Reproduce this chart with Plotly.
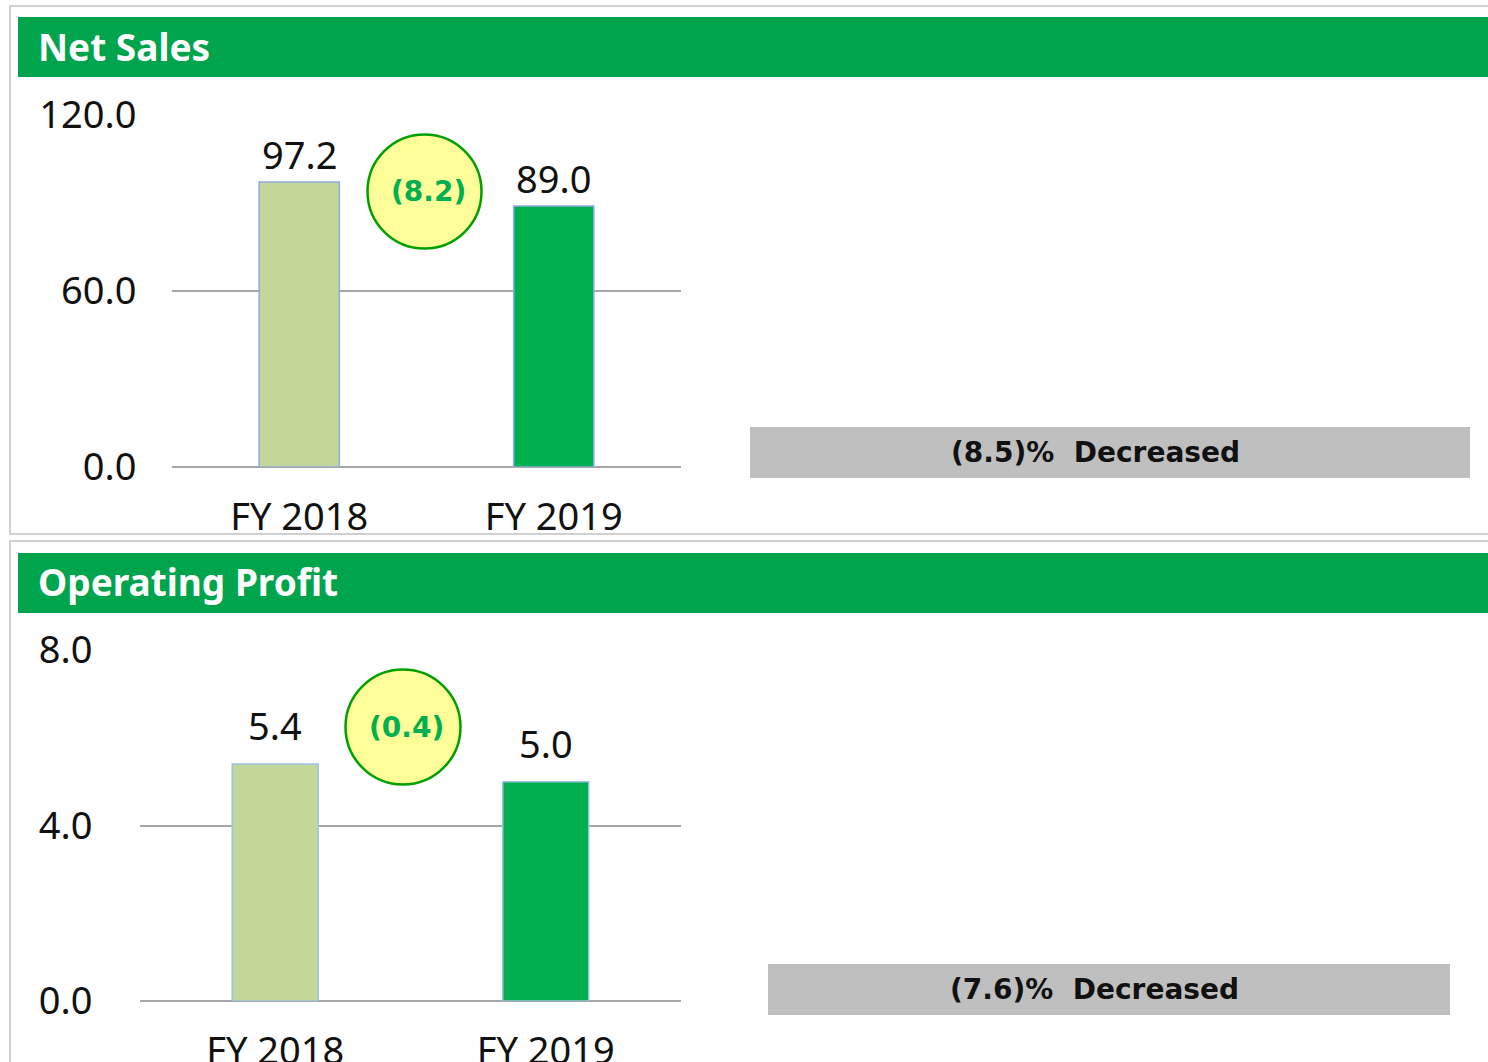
import plotly.graph_objects as go

# ---------------- data ----------------
categories = ["FY 2018", "FY 2019"]
net_sales = [97.2, 89.0]
op_profit = [5.4, 5.0]
net_sales_ticks = [0, 60, 120]
net_sales_ticktext = ["0.0", "60.0", "120.0"]
op_ticks = [0, 4, 8]
op_ticktext = ["0.0", "4.0", "8.0"]
panel_titles = ["Net Sales", "Operating Profit"]
changes = ["(8.2)", "(0.4)"]
pct_changes = ["(8.5)%\u00a0\u00a0Decreased", "(7.6)%\u00a0\u00a0Decreased"]

# ---------------- style ----------------
W, H = 1488, 1062
FONT = "Noto Sans"
BOLD_FONT = "DejaVu Sans"
bar_colors = ["#C4D79B", "#00B050"]
bar_line = "#8FAADC"
grid = "#A6A6A6"
header_green = "#00A44C"


def px(x):
    return x / W


def py(y):
    return 1 - y / H


fig = go.Figure()
fig.add_trace(go.Bar(x=categories, y=net_sales, width=0.315,
                     marker=dict(color=bar_colors, line=dict(color=bar_line, width=1.5)),
                     xaxis="x", yaxis="y", hoverinfo="skip"))
fig.add_trace(go.Bar(x=categories, y=op_profit, width=0.318,
                     marker=dict(color=bar_colors, line=dict(color="#9DC3E6", width=1.5)),
                     xaxis="x2", yaxis="y2", hoverinfo="skip"))

tickfont = dict(family=FONT, size=38, color="#111111")
axis_common = dict(showgrid=False, zeroline=False, showline=False, automargin=False,
                   tickfont=tickfont, ticks="outside", tickcolor="rgba(0,0,0,0)",
                   fixedrange=True)
yaxis_common = dict(showgrid=True, gridcolor=grid, gridwidth=1.5, zeroline=True,
                    zerolinecolor=grid, zerolinewidth=1.5, showline=False, automargin=False,
                    tickfont=tickfont, ticks="outside", tickcolor="rgba(0,0,0,0)",
                    fixedrange=True)

shapes = []
annotations = []

# panel borders
shapes.append(dict(type="rect", xref="paper", yref="paper", x0=px(10), x1=px(1495),
                   y0=py(534), y1=py(6), line=dict(color="#D0D0D0", width=2), layer="below"))
shapes.append(dict(type="rect", xref="paper", yref="paper", x0=px(10), x1=px(1495),
                   y0=py(1075), y1=py(541), line=dict(color="#D0D0D0", width=2), layer="below"))

# headers
for (y0, y1), title in zip([(17, 77), (553, 613)], panel_titles):
    shapes.append(dict(type="rect", xref="paper", yref="paper", x0=px(18), x1=px(1495),
                       y0=py(y1), y1=py(y0), fillcolor=header_green, line=dict(width=0)))
    annotations.append(dict(xref="paper", yref="paper", x=px(36), y=py((y0 + y1) / 2 - 1),
                            xanchor="left", yanchor="middle", showarrow=False, text=title,
                            font=dict(family=FONT, size=37, color="white", weight="bold")))

# circles
for (cx, cy, r), txt in zip([(424.5, 191.5, 57), (403, 727, 57.5)], changes):
    shapes.append(dict(type="circle", xref="paper", yref="paper",
                       x0=px(cx - r), x1=px(cx + r), y0=py(cy + r), y1=py(cy - r),
                       fillcolor="#FFFF99", line=dict(color="#00A000", width=2.5)))
    annotations.append(dict(xref="paper", yref="paper", x=px(cx + 4), y=py(cy),
                            xanchor="center", yanchor="middle", showarrow=False, text=txt,
                            font=dict(family=BOLD_FONT, size=28, color="#00B050", weight="bold")))

# grey boxes
for (x0, x1, y0, y1), txt in zip([(750, 1470, 427, 478), (768, 1450, 964, 1015)], pct_changes):
    shapes.append(dict(type="rect", xref="paper", yref="paper", x0=px(x0), x1=px(x1),
                       y0=py(y1), y1=py(y0), fillcolor="#BFBFBF", line=dict(width=0)))
    annotations.append(dict(xref="paper", yref="paper", x=px((x0 + x1) / 2 - 15), y=py((y0 + y1) / 2),
                            xanchor="center", yanchor="middle", showarrow=False, text=txt,
                            font=dict(family=BOLD_FONT, size=28, color="#111111", weight="bold")))

# bar value labels
for xa, ya, vals, shift in [("x", "y", net_sales, 0), ("x2", "y2", op_profit, 11)]:
    for c, v in zip(categories, vals):
        annotations.append(dict(xref=xa, yref=ya, x=c, y=v, yanchor="bottom", yshift=shift,
                                showarrow=False, text=f"{v:.1f}",
                                font=dict(family=FONT, size=38, color="#111111")))

fig.update_layout(
    width=W, height=H, margin=dict(l=0, r=0, t=0, b=0, autoexpand=False),
    paper_bgcolor="white", plot_bgcolor="rgba(0,0,0,0)", showlegend=False,
    bargap=0.2,
    xaxis=dict(axis_common, domain=[px(172), px(681)], anchor="y", ticklen=16),
    yaxis=dict(yaxis_common, domain=[py(467), py(115)], anchor="x", range=[0, 120],
               tickvals=net_sales_ticks, ticktext=net_sales_ticktext, ticklen=27),
    xaxis2=dict(axis_common, domain=[px(140), px(681)], anchor="y2", ticklen=16),
    yaxis2=dict(yaxis_common, domain=[py(1001), py(650)], anchor="x2", range=[0, 8],
                tickvals=op_ticks, ticktext=op_ticktext, ticklen=39),
    shapes=shapes, annotations=annotations,
)

fig.write_html("out.html", config={"displayModeBar": False},
               post_script="document.body.style.margin='0';")
